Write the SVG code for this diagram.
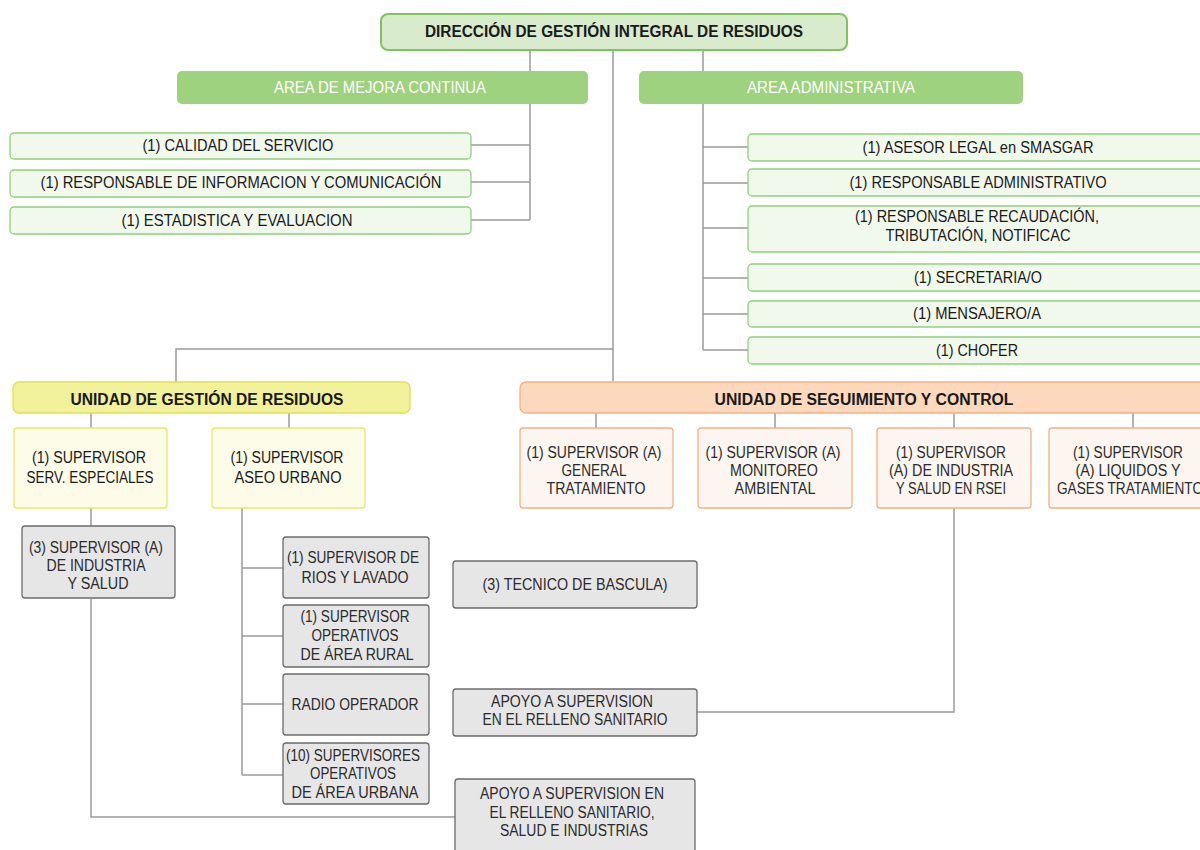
<svg xmlns="http://www.w3.org/2000/svg" width="1200" height="850" viewBox="0 0 1200 850">
<style>
text{font-family:"Liberation Sans",Arial,sans-serif;font-size:16px;fill:#1a1a1a;text-anchor:middle}
.b{font-weight:bold}
.w{fill:#ffffff}
.g{fill:#2b2b2b}
.top{fill:#d8ebcc;stroke:#7fc45f;stroke-width:2}
.area{fill:#9ed27e;stroke:none}
.lg{fill:#f1f8ec;stroke:#8fd17a;stroke-width:1.3}
.uy{fill:#f2f19b;stroke:#e3df4f;stroke-width:1.3}
.ly{fill:#fcfce8;stroke:#ece86a;stroke-width:1.3}
.uo{fill:#fcd9bd;stroke:#f4b183;stroke-width:1.3}
.lo{fill:#fdf5ef;stroke:#f4b183;stroke-width:1.3}
.gr{fill:#e6e6e6;stroke:#6b6b6b;stroke-width:1.3}
.c{fill:none;stroke:#9a9a9a;stroke-width:1.5}
</style>
<g id="connectors" class="c">
<path d="M530 50V71M703 50V71M613 50V381"/>
<path d="M530 104V220M471 145H530M471 182H530M471 220H530"/>
<path d="M703 104V350M703 147H748M703 183H748M703 228H748M703 278H748M703 314H748M703 350H748"/>
<path d="M613 349H176V382"/>
<path d="M91 413V428M289 413V428M91 508V526"/>
<path d="M91 599V817H455"/>
<path d="M242 508V775M242 568H283M242 636H283M242 704H283M242 775H283"/>
<path d="M596 413V428M775 413V428M954 413V428M1133 413V428"/>
<path d="M954 508V712H697"/>
</g>
<g id="n-direccion"><rect class="top" x="381" y="14" width="466" height="36" rx="7"/><text class="b" x="614" y="37" textLength="378" lengthAdjust="spacingAndGlyphs">DIRECCIÓN DE GESTIÓN INTEGRAL DE RESIDUOS</text></g>
<g id="n-mejora"><rect class="area" x="177" y="71" width="411" height="33" rx="5"/><text class="w" x="380" y="93" textLength="212" lengthAdjust="spacingAndGlyphs">AREA DE MEJORA CONTINUA</text></g>
<g id="n-admin"><rect class="area" x="639" y="71" width="384" height="33" rx="5"/><text class="w" x="831" y="93" textLength="168" lengthAdjust="spacingAndGlyphs">AREA ADMINISTRATIVA</text></g>
<g id="n-calidad"><rect class="lg" x="10" y="133" width="461" height="26" rx="4"/><text x="238" y="151" textLength="191" lengthAdjust="spacingAndGlyphs">(1) CALIDAD DEL SERVICIO</text></g>
<g id="n-info"><rect class="lg" x="10" y="170" width="461" height="27" rx="4"/><text x="241" y="188" textLength="401" lengthAdjust="spacingAndGlyphs">(1) RESPONSABLE DE INFORMACION Y COMUNICACIÓN</text></g>
<g id="n-estad"><rect class="lg" x="10" y="207" width="461" height="27" rx="4"/><text x="237" y="226" textLength="231" lengthAdjust="spacingAndGlyphs">(1) ESTADISTICA Y EVALUACION</text></g>
<g id="n-asesor"><rect class="lg" x="748" y="134" width="460" height="27" rx="4"/><text x="978" y="153" textLength="231" lengthAdjust="spacingAndGlyphs">(1) ASESOR LEGAL en SMASGAR</text></g>
<g id="n-respadm"><rect class="lg" x="748" y="169" width="460" height="27" rx="4"/><text x="978" y="188" textLength="257" lengthAdjust="spacingAndGlyphs">(1) RESPONSABLE ADMINISTRATIVO</text></g>
<g id="n-recaud"><rect class="lg" x="748" y="206" width="460" height="46" rx="4"/><text x="977" y="222" textLength="244" lengthAdjust="spacingAndGlyphs">(1) RESPONSABLE RECAUDACIÓN,</text><text x="978" y="241" textLength="185" lengthAdjust="spacingAndGlyphs">TRIBUTACIÓN, NOTIFICAC</text></g>
<g id="n-secre"><rect class="lg" x="748" y="264" width="460" height="27" rx="4"/><text x="978" y="283" textLength="128" lengthAdjust="spacingAndGlyphs">(1) SECRETARIA/O</text></g>
<g id="n-mensa"><rect class="lg" x="748" y="301" width="460" height="26" rx="4"/><text x="977" y="319" textLength="128" lengthAdjust="spacingAndGlyphs">(1) MENSAJERO/A</text></g>
<g id="n-chofer"><rect class="lg" x="748" y="337" width="460" height="27" rx="4"/><text x="977" y="356" textLength="82" lengthAdjust="spacingAndGlyphs">(1) CHOFER</text></g>
<g id="n-ugr"><rect class="uy" x="13" y="382" width="397" height="31" rx="6"/><text class="b" x="207" y="405" textLength="273" lengthAdjust="spacingAndGlyphs">UNIDAD DE GESTIÓN DE RESIDUOS</text></g>
<g id="n-usc"><rect class="uo" x="520" y="382" width="692" height="31" rx="6"/><text class="b" x="864" y="405" textLength="299" lengthAdjust="spacingAndGlyphs">UNIDAD DE SEGUIMIENTO Y CONTROL</text></g>
<g id="n-servesp"><rect class="ly" x="14" y="428" width="153" height="80" rx="3"/><text x="89" y="463" textLength="114" lengthAdjust="spacingAndGlyphs">(1) SUPERVISOR</text><text x="90" y="483" textLength="127" lengthAdjust="spacingAndGlyphs">SERV. ESPECIALES</text></g>
<g id="n-aseo"><rect class="ly" x="212" y="428" width="153" height="80" rx="3"/><text x="287" y="463" textLength="113" lengthAdjust="spacingAndGlyphs">(1) SUPERVISOR</text><text x="288" y="483" textLength="107" lengthAdjust="spacingAndGlyphs">ASEO URBANO</text></g>
<g id="n-supind"><rect class="gr" x="22" y="526" width="153" height="72" rx="3"/><text class="g" x="96" y="553" textLength="134" lengthAdjust="spacingAndGlyphs">(3) SUPERVISOR (A)</text><text class="g" x="96" y="571" textLength="99" lengthAdjust="spacingAndGlyphs">DE INDUSTRIA</text><text class="g" x="98" y="589" textLength="61" lengthAdjust="spacingAndGlyphs">Y SALUD</text></g>
<g id="n-rios"><rect class="gr" x="283" y="537" width="146" height="61" rx="3"/><text class="g" x="353" y="563" textLength="132" lengthAdjust="spacingAndGlyphs">(1) SUPERVISOR DE</text><text class="g" x="355" y="583" textLength="107" lengthAdjust="spacingAndGlyphs">RIOS Y LAVADO</text></g>
<g id="n-rural"><rect class="gr" x="283" y="605" width="146" height="62" rx="3"/><text class="g" x="355" y="622" textLength="109" lengthAdjust="spacingAndGlyphs">(1) SUPERVISOR</text><text class="g" x="355" y="641" textLength="87" lengthAdjust="spacingAndGlyphs">OPERATIVOS</text><text class="g" x="357" y="660" textLength="113" lengthAdjust="spacingAndGlyphs">DE ÁREA RURAL</text></g>
<g id="n-radio"><rect class="gr" x="283" y="674" width="146" height="61" rx="3"/><text class="g" x="355" y="710" textLength="127" lengthAdjust="spacingAndGlyphs">RADIO OPERADOR</text></g>
<g id="n-urbana"><rect class="gr" x="283" y="743" width="146" height="61" rx="3"/><text class="g" x="353" y="761" textLength="134" lengthAdjust="spacingAndGlyphs">(10) SUPERVISORES</text><text class="g" x="353" y="779" textLength="86" lengthAdjust="spacingAndGlyphs">OPERATIVOS</text><text class="g" x="355" y="798" textLength="127" lengthAdjust="spacingAndGlyphs">DE ÁREA URBANA</text></g>
<g id="n-tecnico"><rect class="gr" x="453" y="561" width="244" height="47" rx="3"/><text class="g" x="575" y="590" textLength="185" lengthAdjust="spacingAndGlyphs">(3) TECNICO DE BASCULA)</text></g>
<g id="n-apoyo1"><rect class="gr" x="453" y="689" width="244" height="47" rx="3"/><text class="g" x="572" y="707" textLength="162" lengthAdjust="spacingAndGlyphs">APOYO A SUPERVISION</text><text class="g" x="575" y="725" textLength="185" lengthAdjust="spacingAndGlyphs">EN EL RELLENO SANITARIO</text></g>
<g id="n-apoyo2"><rect class="gr" x="455" y="779" width="240" height="80" rx="3"/><text class="g" x="572" y="799" textLength="184" lengthAdjust="spacingAndGlyphs">APOYO A SUPERVISION EN</text><text class="g" x="572" y="818" textLength="165" lengthAdjust="spacingAndGlyphs">EL RELLENO SANITARIO,</text><text class="g" x="574" y="836" textLength="148" lengthAdjust="spacingAndGlyphs">SALUD E INDUSTRIAS</text></g>
<g id="n-gentrat"><rect class="lo" x="520" y="428" width="153" height="80" rx="3"/><text class="g" x="594" y="458" textLength="135" lengthAdjust="spacingAndGlyphs">(1) SUPERVISOR (A)</text><text class="g" x="594" y="476" textLength="65" lengthAdjust="spacingAndGlyphs">GENERAL</text><text class="g" x="596" y="494" textLength="99" lengthAdjust="spacingAndGlyphs">TRATAMIENTO</text></g>
<g id="n-monit"><rect class="lo" x="698" y="428" width="154" height="80" rx="3"/><text class="g" x="773" y="458" textLength="135" lengthAdjust="spacingAndGlyphs">(1) SUPERVISOR (A)</text><text class="g" x="774" y="476" textLength="88" lengthAdjust="spacingAndGlyphs">MONITOREO</text><text class="g" x="775" y="494" textLength="81" lengthAdjust="spacingAndGlyphs">AMBIENTAL</text></g>
<g id="n-rsei"><rect class="lo" x="877" y="428" width="154" height="80" rx="3"/><text class="g" x="951" y="458" textLength="110" lengthAdjust="spacingAndGlyphs">(1) SUPERVISOR</text><text class="g" x="951" y="476" textLength="124" lengthAdjust="spacingAndGlyphs">(A) DE INDUSTRIA</text><text class="g" x="951" y="494" textLength="110" lengthAdjust="spacingAndGlyphs">Y SALUD EN RSEI</text></g>
<g id="n-liquidos"><rect class="lo" x="1049" y="428" width="168" height="80" rx="3"/><text class="g" x="1128" y="458" textLength="110" lengthAdjust="spacingAndGlyphs">(1) SUPERVISOR</text><text class="g" x="1128" y="476" textLength="105" lengthAdjust="spacingAndGlyphs">(A) LIQUIDOS Y</text><text class="g" x="1130" y="494" textLength="146" lengthAdjust="spacingAndGlyphs">GASES TRATAMIENTO</text></g>
</svg>
